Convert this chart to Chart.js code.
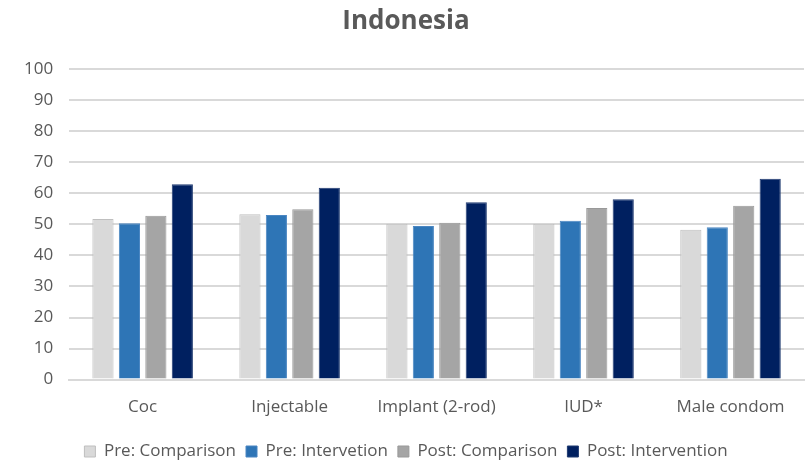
<!DOCTYPE html>
<html>
<head>
<meta charset="utf-8">
<script src="https://cdn.jsdelivr.net/npm/chart.js@4"></script>
<style>
  html, body { margin: 0; padding: 0; background: #fff; }
  #wrap { width: 808px; height: 463px; }
</style>
</head>
<body>
<div id="wrap"><canvas id="chart" width="808" height="463"></canvas></div>
<script>
// Data
const categories = ['Coc', 'Injectable', 'Implant (2-rod)', 'IUD*', 'Male condom'];
const preComparison = [51.7, 53.3, 50.2, 50.2, 48.3];
const preIntervention = [50.4, 53.0, 49.5, 51.2, 49.1];
const postComparison = [52.8, 54.9, 50.5, 55.3, 56.0];
const postIntervention = [62.9, 61.8, 57.1, 58.1, 64.7];
const seriesNames = ['Pre: Comparison', 'Pre: Intervetion', 'Post: Comparison', 'Post: Intervention'];

const colors = ['#d9d9d9', '#2e75b6', '#a5a5a5', '#002060'];
const borders = ['#bfbfbf', '#4a86c2', '#999999', '#1f3a70'];
const textColor = '#595959';
const fontFamily = 'Open Sans';

function makeSet(i, data) {
    return {
        label: seriesNames[i],
        data: data,
        backgroundColor: colors[i],
        borderColor: borders[i],
        borderWidth: 1,
        categoryPercentage: 0.72,
        barPercentage: 0.8
    };
}

new Chart(document.getElementById('chart'), {
    type: 'bar',
    data: {
        labels: categories,
        datasets: [
            makeSet(0, preComparison),
            makeSet(1, preIntervention),
            makeSet(2, postComparison),
            makeSet(3, postIntervention)
        ]
    },
    options: {
        responsive: false,
        animation: false,
        layout: { padding: { left: 8, right: 4, top: 0, bottom: -7 } },
        plugins: {
            title: {
                display: true,
                text: 'Indonesia',
                color: textColor,
                font: { family: fontFamily, size: 26, weight: 'bold' },
                padding: { top: 6, bottom: 32 }
            },
            legend: {
                position: 'bottom',
                labels: {
                    color: textColor,
                    font: { family: fontFamily, size: 17 },
                    boxWidth: 11,
                    boxHeight: 11,
                    padding: 10
                }
            },
            tooltip: { enabled: false }
        },
        scales: {
            x: {
                grid: { display: false },
                border: { color: '#d9d9d9', width: 2 },
                ticks: { color: textColor, font: { family: fontFamily, size: 17 }, padding: 9 },
                // leave a little more room between the category labels and the legend
                afterFit: (scale) => { scale.height += 7; }
            },
            y: {
                min: 0,
                max: 100,
                ticks: { stepSize: 10, color: textColor, font: { family: fontFamily, size: 17 }, padding: 16 },
                grid: { color: '#d9d9d9', lineWidth: 2, drawTicks: false },
                border: { display: false }
            }
        }
    }
});
</script>
</body>
</html>
